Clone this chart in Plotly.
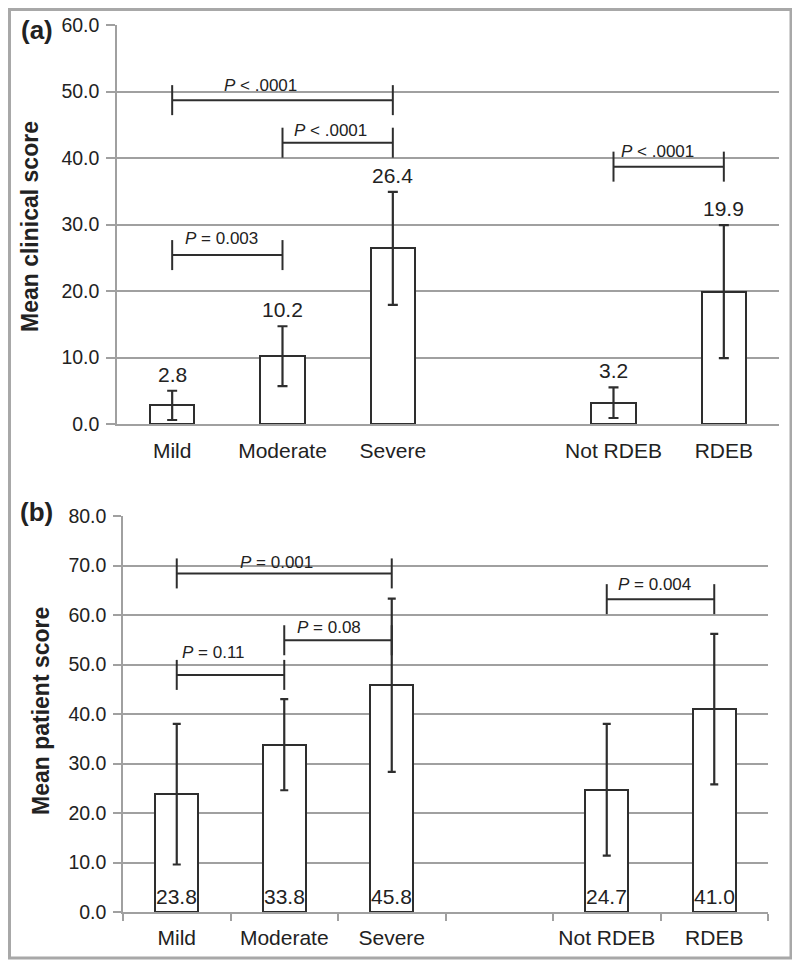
import plotly.graph_objects as go

# ---------------- data ----------------
categories = ["Mild", "Moderate", "Severe", "Not RDEB", "RDEB"]
group_sizes = [3, 2]          # two groups separated by one empty slot

clinical_mean = [2.8, 10.2, 26.4, 3.2, 19.9]
clinical_err = [2.2, 4.5, 8.5, 2.3, 10.0]

patient_mean = [23.8, 33.8, 45.8, 24.7, 41.0]
patient_err = [14.2, 9.2, 17.5, 13.3, 15.2]

clinical_ticks = [0, 10, 20, 30, 40, 50, 60]
patient_ticks = [0, 10, 20, 30, 40, 50, 60, 70, 80]

# brackets: (from, to, level, label)
clinical_brackets_from = ["Mild", "Moderate", "Mild", "Not RDEB"]
clinical_brackets_to = ["Severe", "Severe", "Moderate", "RDEB"]
clinical_brackets_y = [48.7, 42.3, 25.4, 38.7]
clinical_brackets_txt = ["<i>P</i> &lt; .0001", "<i>P</i> &lt; .0001", "<i>P</i> = 0.003", "<i>P</i> &lt; .0001"]

patient_brackets_from = ["Mild", "Moderate", "Mild", "Not RDEB"]
patient_brackets_to = ["Severe", "Severe", "Moderate", "RDEB"]
patient_brackets_y = [68.4, 54.9, 47.9, 63.2]
patient_brackets_txt = ["<i>P</i> = 0.001", "<i>P</i> = 0.08", "<i>P</i> = 0.11", "<i>P</i> = 0.004"]

# ---------------- layout helpers ----------------
W, H = 800, 963
OFF = 8   # page body margin
FONT = "Liberation Sans, Arial, sans-serif"
TXT = "#222222"
GRID = "#a0a0a0"
DARK = "#2e2e2e"

def px(x):
    return (x - OFF) / W

def py(y):
    return 1 - (y - OFF) / H

# slot positions (groups separated by an empty slot)
pos = []
s = 0
for g in group_sizes:
    for _ in range(g):
        pos.append(s)
        s += 1
    s += 1
n_slots = s - 1
pos_of = dict(zip(categories, pos))

panels = {
    "a": dict(x0=117, x1=779, top=25, bottom=424, ymax=60),
    "b": dict(x0=123, x1=768, top=516, bottom=912, ymax=80),
}

fig = go.Figure()

def add_panel(xa, ya, means, errs, cap, br_from, br_to, br_y, br_txt, br_xshift, br_yshift, ppx_per_unit):
    fig.add_trace(go.Bar(
        x=[pos_of[c] for c in categories], y=means, width=0.4,
        marker=dict(color="white", line=dict(color=DARK, width=2)),
        error_y=dict(type="data", array=errs, visible=True, color=DARK, thickness=2.2, width=cap),
        xaxis=xa, yaxis=ya, showlegend=False, hoverinfo="skip",
    ))
    h = 15.0 / ppx_per_unit
    for f, t, yv, txt, dx, dy in zip(br_from, br_to, br_y, br_txt, br_xshift, br_yshift):
        x1, x2 = pos_of[f], pos_of[t]
        fig.add_trace(go.Scatter(
            x=[x1, x1, None, x1, x2, None, x2, x2],
            y=[yv + h, yv - h, None, yv, yv, None, yv + h, yv - h],
            mode="lines", line=dict(color=DARK, width=2),
            xaxis=xa, yaxis=ya, showlegend=False, hoverinfo="skip",
        ))
        fig.add_annotation(
            x=(x1 + x2) / 2, y=yv, xref=xa, yref=ya.replace("axis", ""),
            text=txt, showarrow=False, xshift=dx, yshift=dy,
            xanchor="center", yanchor="middle",
            font=dict(family=FONT, size=17, color=TXT),
        )

pa, pb = panels["a"], panels["b"]

add_panel("x", "y", clinical_mean, clinical_err, 5,
          clinical_brackets_from, clinical_brackets_to, clinical_brackets_y, clinical_brackets_txt,
          [-22, -7, -6, -11], [15, 12, 17, 15],
          (pa["bottom"] - pa["top"]) / pa["ymax"])
add_panel("x2", "y2", patient_mean, patient_err, 4,
          patient_brackets_from, patient_brackets_to, patient_brackets_y, patient_brackets_txt,
          [-8, -9, -17, -6], [11, 13, 22, 15],
          (pb["bottom"] - pb["top"]) / pb["ymax"])

# value labels
for c, m, e in zip(categories, clinical_mean, clinical_err):
    fig.add_annotation(x=pos_of[c], y=m + e, xref="x", yref="y", text=f"{m:.1f}",
                       showarrow=False, xanchor="center", yanchor="bottom", yshift=3,
                       font=dict(family=FONT, size=21, color=TXT))
for c, m in zip(categories, patient_mean):
    fig.add_annotation(x=pos_of[c], y=0, xref="x2", yref="y2", text=f"{m:.1f}",
                       showarrow=False, xanchor="center", yanchor="bottom", yshift=2,
                       font=dict(family=FONT, size=21, color=TXT))

def dom_x(p):
    return [px(p["x0"]), px(p["x1"])]

def dom_y(p):
    return [py(p["bottom"]), py(p["top"])]

tickfont = dict(family=FONT, size=19.5, color=TXT)
catfont = dict(family=FONT, size=21, color=TXT)

fig.update_layout(
    width=W, height=H, margin=dict(l=0, r=0, t=0, b=0, pad=0),
    paper_bgcolor="white", plot_bgcolor="white",
    bargap=0,
    xaxis=dict(domain=dom_x(pa), anchor="y", range=[-0.5, n_slots - 0.5], automargin=False,
               tickvals=pos, ticktext=categories, ticks="", showgrid=False, zeroline=False,
               showline=True, linecolor=GRID, linewidth=1.5, tickfont=catfont,
               ticklabelstandoff=7),
    yaxis=dict(domain=dom_y(pa), anchor="x", range=[0, pa["ymax"]], tickvals=clinical_ticks,
               automargin=False,
               tickformat=".1f", showgrid=True, gridcolor=GRID, gridwidth=1.5, zeroline=False,
               showline=True, linecolor=GRID, linewidth=1.5, ticks="outside", ticklen=9,
               tickcolor=GRID, tickwidth=1.5, tickfont=tickfont, ticklabelstandoff=3),
    xaxis2=dict(domain=dom_x(pb), anchor="y2", range=[-0.5, n_slots - 0.5], automargin=False,
                tickvals=pos, ticktext=categories, ticks="", showgrid=False, zeroline=False,
                showline=True, linecolor=GRID, linewidth=1.5, tickfont=catfont,
                minor=dict(tick0=-0.5, dtick=1, ticks="outside", ticklen=7, tickcolor=GRID,
                           tickwidth=1.5, showgrid=False),
                ticklabelstandoff=6),
    yaxis2=dict(domain=dom_y(pb), anchor="x2", range=[0, pb["ymax"]], tickvals=patient_ticks,
                automargin=False,
                tickformat=".1f", showgrid=True, gridcolor=GRID, gridwidth=1.5, zeroline=False,
                showline=True, linecolor=GRID, linewidth=1.5, ticks="outside", ticklen=8,
                tickcolor=GRID, tickwidth=1.5, tickfont=tickfont, ticklabelstandoff=3),
)

# panel letters & axis titles
for txt, x, y, size, ang in [("<b>(a)</b>", 37, 30, 26, 0),
                             ("<b>(b)</b>", 37, 512, 26, 0),
                             ("<b>Mean clinical score</b>", 30, 227, 23, -90),
                             ("<b>Mean patient score</b>", 41, 711, 23, -90)]:
    fig.add_annotation(x=px(x), y=py(y), xref="paper", yref="paper", text=txt,
                       showarrow=False, textangle=ang, xanchor="center", yanchor="middle",
                       font=dict(family=FONT, size=size, color=TXT))

# outer frame
fig.add_shape(type="rect", xref="paper", yref="paper",
              x0=1.5 / W, x1=px(791), y0=py(958), y1=1 - 1.5 / H,
              line=dict(color="#a8a8a8", width=3))

fig.write_html("out.html")
